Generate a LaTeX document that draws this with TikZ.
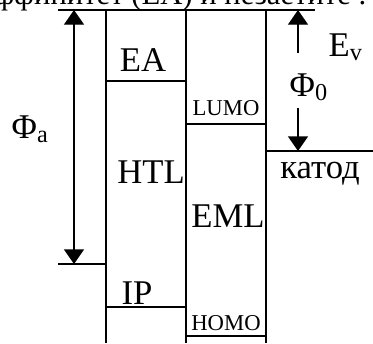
\documentclass[tikz,border=0pt]{standalone}
\usepackage{fontspec}
\setmainfont{Liberation Serif}
\usetikzlibrary{arrows.meta}

\begin{document}
\begin{tikzpicture}[x=0.75pt,y=-0.75pt,>={Triangle[width=15pt,length=11pt]},line width=1pt,
  lbl/.style={inner sep=0pt,font=\fontsize{26}{28}\selectfont},
  smalllbl/.style={inner sep=0pt,font=\fontsize{17}{19}\selectfont}]
  \useasboundingbox (0,0) rectangle (373,343);
  \clip (0,0) rectangle (373,343);
  % cut line of text above
  \node[inner sep=0pt,font=\fontsize{23}{25}\selectfont,anchor=base east] (txt) at (367,4) {аффинитет (EA) и незаетите .};
  % vacuum level and layers
  \draw (58,10) -- (315,10);
  \foreach \x in {106,186,266} \draw (\x,10) -- (\x,343);
  \draw (58,264) -- (106,264);
  \draw (106,81) -- (186,81);
  \draw (106,307) -- (186,307);
  \draw (186,124) -- (266,124);
  \draw (186,336) -- (266,336);
  \draw (266,151) -- (373,151);
  % labels
  \node[lbl,anchor=base] (ea) at (143,71) {EA};
  \node[lbl,anchor=base] (htl) at (151,183) {HTL};
  \node[lbl,anchor=base] (ip) at (137,304) {IP};
  \node[smalllbl,anchor=base] (lumo) at (226,115) {LUMO};
  \node[lbl,anchor=base] (eml) at (228,227) {EML};
  \node[smalllbl,anchor=base] (homo) at (226,330) {HOMO};
  \node[lbl,anchor=base] (kat) at (320,178) {катод};
  \node[lbl,anchor=base west] (fa) at (11,138) {Φ\textsubscript{a}};
  \node[lbl,anchor=base west] (f0) at (289,96) {Φ\textsubscript{0}};
  \node[lbl,anchor=base west] (ev) at (328,56) {E\textsubscript{v}};
  % arrows
  \coordinate (atop) at (74,10);
  \coordinate (abot) at (74,264);
  \draw[<->] (abot) -- (atop);
  \coordinate (ctop) at (298,10);
  \coordinate (cup) at (298,53);
  \coordinate (cdn) at (298,108);
  \coordinate (cbot) at (298,151);
  \draw[->] (cup) -- (ctop);
  \draw[->] (cdn) -- (cbot);
\end{tikzpicture}
\end{document}
